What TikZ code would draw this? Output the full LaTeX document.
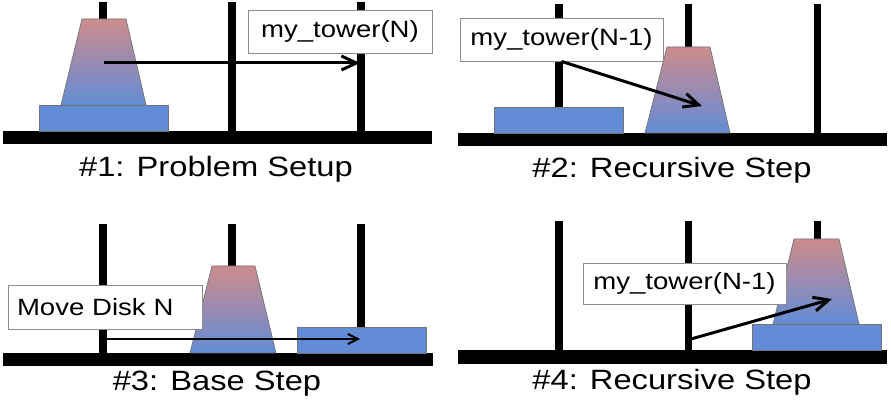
\documentclass[tikz,border=0pt]{standalone}
\usepackage{fontspec}
\newfontfamily\figfont{Liberation Sans}[FakeStretch=1.17]
\usetikzlibrary{arrows.meta}
\definecolor{diskblue}{RGB}{99,140,214}
\definecolor{diskrose}{RGB}{204,140,140}

\begin{document}
\begin{tikzpicture}[x=0.02cm, y=-0.02cm,
            base/.style = {fill=black},
            peg/.style = {line width=4pt},
            disk/.style = {fill=diskblue, draw=black!55, line width=0.4pt},
            cone/.style = {top color=diskrose, bottom color=diskblue, draw=black!55, line width=0.4pt},
            callout/.style = {draw=black!45, fill=white, line width=0.5pt, minimum height=0.86cm, inner sep=0pt, font=\figfont\fontsize{13.4}{16}\selectfont},
            caption/.style = {anchor=base, font=\figfont\fontsize{15.9}{19}\selectfont},
            move/.style = {line width=1.7pt, -{Straight Barb[length=3mm,width=2.8mm]}},
        ]
            \useasboundingbox (0,0) rectangle (891,404);

            % #1: Problem Setup
            \fill[base] (3,131) rectangle (432,144);
            \foreach \x in {103,232,361} \draw[peg] (\x,2) -- (\x,131);
            \draw[disk] (39,105) rectangle (168,131);
            \draw[cone] (82,19) -- (126,19) -- (146,105) -- (61,105) -- cycle;
            \coordinate (from1) at (104,63);
            \coordinate (to1) at (360,63);
            \draw[move] (from1) -- (to1);
            \node[callout, minimum width=3.68cm] (call1) at (340,31.5) {my\_tower(N)};
            \node[caption] (cap1) at (216,177) {\#1: Problem Setup};

            % #2: Recursive Step
            \fill[base] (458,133) rectangle (887,146);
            \foreach \x in {559,688,817} \draw[peg] (\x,4) -- (\x,133);
            \draw[disk] (494,107) rectangle (623,133);
            \draw[cone] (667,47) -- (710,47) -- (730,133) -- (645,133) -- cycle;
            \node[callout, minimum width=4.06cm] (call2) at (561.5,39.5) {my\_tower(N-1)};
            \coordinate (to2) at (702,106);
            \draw[move] (call2.south) -- (to2);
            \node[caption] (cap2) at (672,178) {\#2: Recursive Step};

            % #3: Base Step
            \fill[base] (3,353) rectangle (433,366);
            \foreach \x in {103,232,361} \draw[peg] (\x,224) -- (\x,353);
            \draw[cone] (212,266) -- (255,266) -- (276,353) -- (190,353) -- cycle;
            \draw[disk] (297,327) rectangle (426,353);
            \coordinate (from3) at (106,339);
            \coordinate (to3) at (360,339);
            \draw[move, line width=1.1pt, -{Straight Barb[length=2mm,width=2mm]}] (from3) -- (to3);
            \node[callout, minimum height=0.88cm, inner xsep=0.18cm, text width=3.52cm, align=left] (call3) at (105,307) {Move Disk N};
            \node[caption] (cap3) at (217,391) {\#3: Base Step};

            % #4: Recursive Step
            \fill[base] (458,350) rectangle (887,364);
            \foreach \x in {559,688,817} \draw[peg] (\x,221) -- (\x,350);
            \draw[disk] (752,324) rectangle (881,350);
            \draw[cone] (794,239) -- (839,239) -- (859,324) -- (773,324) -- cycle;
            \coordinate (from4) at (691,339);
            \coordinate (to4) at (832,299);
            \draw[move] (from4) -- (to4);
            \node[callout, minimum width=4.06cm, minimum height=0.82cm] (call4) at (684.5,283.5) {my\_tower(N-1)};
            \node[caption] (cap4) at (672,390) {\#4: Recursive Step};
        \end{tikzpicture}
\end{document}
